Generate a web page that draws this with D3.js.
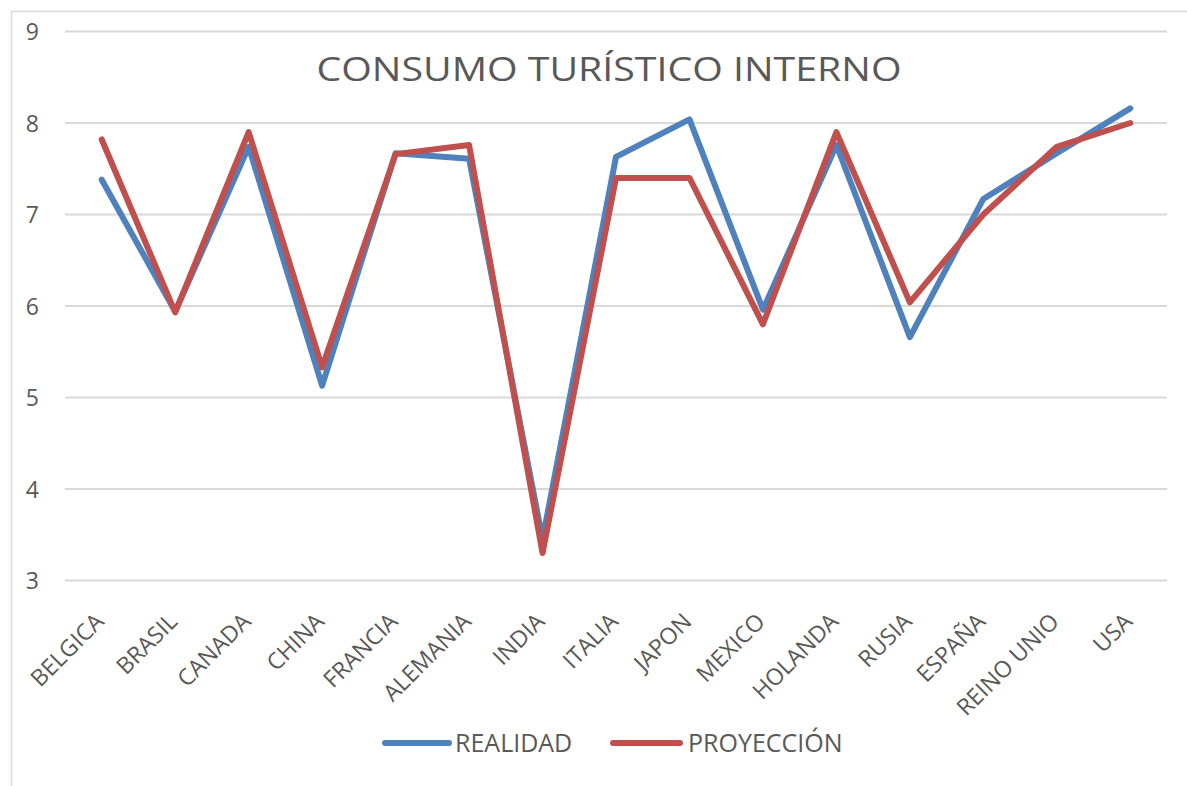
<!DOCTYPE html>
<html><head><meta charset="utf-8">
<script src="https://cdn.jsdelivr.net/npm/d3@7"></script>
<style>html,body{margin:0;padding:0;background:#fff;}svg{display:block;}</style>
</head><body>
<script>
const categories = ["BELGICA","BRASIL","CANADA","CHINA","FRANCIA","ALEMANIA","INDIA","ITALIA","JAPON","MEXICO","HOLANDA","RUSIA","ESPAÑA","REINO UNIO","USA"];
const realidad   = [7.38, 5.94, 7.74, 5.13, 7.67, 7.61, 3.45, 7.63, 8.04, 5.96, 7.76, 5.66, 7.17, 7.67, 8.16];
const proyeccion = [7.82, 5.93, 7.90, 5.33, 7.66, 7.76, 3.30, 7.40, 7.40, 5.80, 7.90, 6.04, 7.00, 7.74, 8.00];
const yTicks = [3,4,5,6,7,8,9];
const seriesNames = ["REALIDAD","PROYECCIÓN"];
const title = "CONSUMO TURÍSTICO INTERNO";

const W = 1187, H = 786;
const svg = d3.select("body").append("svg").attr("width", W).attr("height", H);
const font = "'Open Sans', 'Liberation Sans', sans-serif";

// chart frame (cropped on right/bottom)
svg.append("path").attr("d", `M11.5,${H} L11.5,11.5 L${W},11.5`)
  .attr("fill","none").attr("stroke","#d9d9d9").attr("stroke-width",1.5);

const x = d3.scalePoint().domain(categories).range([65,1167]).padding(0.5);
const y = d3.scaleLinear().domain([3,9]).range([580.5,31.5]);

// gridlines
svg.append("g").selectAll("line").data(yTicks).join("line")
  .attr("x1",65).attr("x2",1167)
  .attr("y1",d=>y(d)).attr("y2",d=>y(d))
  .attr("stroke","#d9d9d9").attr("stroke-width",2);

// y axis labels
const yAxis = d3.axisLeft(y).tickValues(yTicks).tickFormat(d3.format("d")).tickSize(0).tickPadding(0);
const gy = svg.append("g").attr("transform","translate(39,0)").call(yAxis);
gy.select(".domain").remove();
gy.selectAll("text").attr("font-family",font).attr("font-size",23).attr("fill","#595959").attr("dy","0.36em");

// x axis labels
const xAxis = d3.axisBottom(x).tickSize(0).tickPadding(0);
const gx = svg.append("g").attr("transform","translate(0,596)").call(xAxis);
gx.select(".domain").remove();
gx.selectAll("text").attr("font-family",font).attr("font-size",23).attr("fill","#595959")
  .attr("text-anchor","end").attr("x",0).attr("y",0).attr("dy",0)
  .attr("transform","translate(3,27) rotate(-45)");

// title
svg.append("text").attr("x",609).attr("y",81).attr("text-anchor","middle")
  .attr("font-family",font).attr("font-size",33).attr("fill","#595959")
  .attr("textLength",585).attr("lengthAdjust","spacingAndGlyphs")
  .text(title);

// lines
const line = d3.line().x((d,i)=>x(categories[i])).y(d=>y(d));
const colors = ["#4f81bd","#c0504d"];
[realidad, proyeccion].forEach((s,k)=>{
  svg.append("path").datum(s).attr("d",line)
    .attr("fill","none").attr("stroke",colors[k]).attr("stroke-width",6)
    .attr("stroke-linejoin","round").attr("stroke-linecap","round");
});

// legend
const legend = [{x1:385,x2:449,tx:455},{x1:613,x2:680,tx:688}];
legend.forEach((l,k)=>{
  svg.append("line").attr("x1",l.x1).attr("x2",l.x2).attr("y1",743).attr("y2",743)
    .attr("stroke",colors[k]).attr("stroke-width",6).attr("stroke-linecap","round");
  svg.append("text").attr("x",l.tx).attr("y",752)
    .attr("font-family",font).attr("font-size",25).attr("fill","#595959")
    .text(seriesNames[k]);
});
</script>
</body></html>
